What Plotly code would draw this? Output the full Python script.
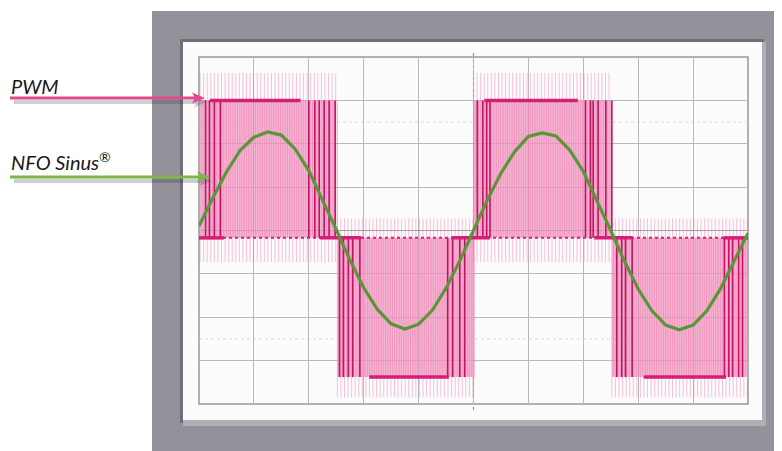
import numpy as np
import plotly.graph_objects as go

# page is rendered with an 8px body margin -> compensate
OFF = 8
W, H = 782 - OFF, 451 - OFF
PL, PR, PT, PB = 199, 748, 57, 404  # plot-area box in reference pixels


def px(x):
    return (x - PL) / (PR - PL)


def py(y):
    return (PB - y) / (PB - PT)


# ---------------- data (units = screen divisions) -------
sine_t = [0.0, 0.25, 0.5, 0.75, 1.0, 1.25, 1.5, 1.75, 2.0, 2.25,
          2.5, 2.75, 3.0, 3.25, 3.5, 3.75, 4.0, 4.25, 4.5, 4.75,
          5.0, 5.25, 5.5, 5.75, 6.0, 6.25, 6.5, 6.75, 7.0, 7.25,
          7.5, 7.75, 8.0, 8.25, 8.5, 8.75, 9.0, 9.25, 9.5, 9.75, 10.0]
sine_v = [0.10, 0.75, 1.35, 1.85, 2.15, 2.27, 2.20, 1.88, 1.38, 0.72,
          0.02, -0.68, -1.32, -1.82, -2.15, -2.27, -2.16, -1.84, -1.33, -0.70,
          0.00, 0.70, 1.32, 1.82, 2.17, 2.25, 2.18, 1.86, 1.36, 0.70,
          0.00, -0.71, -1.35, -1.85, -2.18, -2.29, -2.18, -1.85, -1.34, -0.70, -0.06]

pwm_zero = -0.17
pwm_block_start = [0.02, 2.52, 5.0, 7.52]
pwm_block_end = [2.5, 5.0, 7.5, 10.0]
pwm_block_level = [3.0, -3.38, 3.0, -3.38]
pwm_spike_top = [3.63, 0.28, 3.63, 0.28]
pwm_spike_bottom = [-0.73, -3.85, -0.73, -3.85]
pwm_pulse_step = 0.065

pwm_dark_lines = [
    [0.12, 0.19, 0.28, 0.39, 2.00, 2.11, 2.19, 2.28, 2.37, 2.48],
    [2.56, 2.63, 2.72, 2.80, 2.93, 4.53, 4.62, 4.75, 4.84],
    [5.07, 5.17, 5.24, 5.30, 7.04, 7.13, 7.18, 7.27, 7.41, 7.52],
    [7.61, 7.70, 7.77, 7.89, 9.57, 9.65, 9.72, 9.83, 9.90],
]
pwm_bar_start = [0.20, 3.10, 5.20, 8.10]
pwm_bar_end = [1.85, 4.55, 6.90, 9.60]
zero_bar_start = [0.0, 2.20, 4.60, 7.20, 9.55]
zero_bar_end = [0.45, 2.95, 5.30, 7.90, 10.0]

# ---------------- colours -----------------------------------------------------
FRAME = "rgb(147,145,153)"
PINK_FILL = "rgba(243,160,198,0.70)"
PINK_STRIPE = "rgba(222,70,145,0.33)"
PINK_SPIKE = "rgba(236,110,168,0.42)"
DARK_PINK = "rgb(196,18,102)"
BAR_PINK = "rgb(215,30,118)"
GREEN = "rgb(90,150,56)"
ARROW_PINK = "rgb(225,72,142)"
ARROW_GREEN = "rgb(124,181,72)"

fig = go.Figure()

# PWM blocks
for s, e, lvl, st, sb in zip(pwm_block_start, pwm_block_end, pwm_block_level,
                             pwm_spike_top, pwm_spike_bottom):
    fig.add_trace(go.Scatter(x=[s, s, e, e, s], y=[pwm_zero, lvl, lvl, pwm_zero, pwm_zero],
                             fill="toself", fillcolor=PINK_FILL, mode="lines",
                             line=dict(width=0), hoverinfo="skip", showlegend=False))
    pos = np.arange(s, e + 1e-9, pwm_pulse_step)
    xs, ys, xs2, ys2 = [], [], [], []
    for p in pos:
        xs += [p, p, None]
        ys += [sb, st, None]
        xs2 += [p + pwm_pulse_step / 2, p + pwm_pulse_step / 2, None]
        ys2 += [pwm_zero, lvl, None]
    fig.add_trace(go.Scatter(x=xs, y=ys, mode="lines", line=dict(color=PINK_SPIKE, width=1),
                             hoverinfo="skip", showlegend=False))
    fig.add_trace(go.Scatter(x=xs2, y=ys2, mode="lines", line=dict(color=PINK_STRIPE, width=1),
                             hoverinfo="skip", showlegend=False))

# dark edge pulses
for lines, lvl in zip(pwm_dark_lines, pwm_block_level):
    xs, ys = [], []
    for p in lines:
        xs += [p, p, None]
        ys += [pwm_zero, lvl, None]
    fig.add_trace(go.Scatter(x=xs, y=ys, mode="lines", line=dict(color=DARK_PINK, width=1.6),
                             hoverinfo="skip", showlegend=False))

# zero-level trace
fig.add_trace(go.Scatter(x=[0, 10], y=[pwm_zero, pwm_zero], mode="lines",
                         line=dict(color=BAR_PINK, width=2, dash="dot"),
                         hoverinfo="skip", showlegend=False))
xs, ys = [], []
for s, e in zip(zero_bar_start, zero_bar_end):
    xs += [s, e, None]
    ys += [pwm_zero, pwm_zero, None]
fig.add_trace(go.Scatter(x=xs, y=ys, mode="lines", line=dict(color=BAR_PINK, width=3.5),
                         hoverinfo="skip", showlegend=False))

# high / low level bars
xs, ys = [], []
for s, e, lvl in zip(pwm_bar_start, pwm_bar_end, pwm_block_level):
    xs += [s, e, None]
    ys += [lvl, lvl, None]
fig.add_trace(go.Scatter(x=xs, y=ys, mode="lines", line=dict(color=BAR_PINK, width=3.5),
                         hoverinfo="skip", showlegend=False))

# sine
fig.add_trace(go.Scatter(x=sine_t, y=sine_v, mode="lines", line=dict(color=GREEN, width=3.2),
                         hoverinfo="skip", showlegend=False))

# centre-axis small markers
fig.add_trace(go.Scatter(x=[5, 5], y=[4.12, -4.15], mode="markers",
                         marker=dict(color="rgb(200,60,110)", size=4, symbol="square"),
                         cliponaxis=False, hoverinfo="skip", showlegend=False))
fig.add_trace(go.Scatter(x=[10.06], y=[0.33], mode="markers",
                         marker=dict(color="rgb(200,60,110)", size=6, symbol="triangle-left"),
                         cliponaxis=False, hoverinfo="skip", showlegend=False))


def rect(x0, y0, x1, y1, color):
    return dict(type="rect", xref="paper", yref="paper", x0=px(x0), x1=px(x1),
                y0=py(y1), y1=py(y0), fillcolor=color, line=dict(width=0), layer="below")


def arrow(x0, x1, y, color, width=3, head_len=13, head_half=5.5, notch=3, layer="above"):
    line = dict(type="line", xref="paper", yref="paper", x0=px(x0), x1=px(x1 - head_len + notch),
                y0=py(y), y1=py(y), line=dict(color=color, width=width), layer=layer)
    path = "M {},{} L {},{} L {},{} L {},{} Z".format(
        px(x1), py(y), px(x1 - head_len), py(y - head_half),
        px(x1 - head_len + notch), py(y), px(x1 - head_len), py(y + head_half))
    head = dict(type="path", xref="paper", yref="paper", path=path, fillcolor=color,
                line=dict(width=0), layer=layer)
    return [line, head]


shapes = [
    rect(152, 11, 800, 470, FRAME),
    rect(180, 39, 764, 423, "rgb(112,111,119)"),
    rect(183, 42, 766, 426, "rgb(176,175,182)"),
    rect(183, 42, 762, 420, "rgb(252,252,252)"),
    dict(type="rect", xref="paper", yref="paper", x0=0, x1=1, y0=0, y1=1,
         line=dict(color="rgb(150,150,150)", width=1.5), layer="below"),
    dict(type="line", xref="x", yref="paper", x0=5, x1=5, y0=py(410), y1=py(52),
         line=dict(color="rgb(165,140,150)", width=1.2, dash="dot"), layer="below"),
    dict(type="line", xref="paper", yref="y", x0=0, x1=1, y0=2.5, y1=2.5,
         line=dict(color="rgb(218,218,218)", width=1, dash="dot"), layer="below"),
    dict(type="line", xref="paper", yref="y", x0=0, x1=1, y0=-2.5, y1=-2.5,
         line=dict(color="rgb(218,218,218)", width=1, dash="dot"), layer="below"),
]
# arrows with soft drop shadows
shapes += arrow(14, 207, 102, "rgba(40,40,40,0.22)", width=4)
shapes += arrow(14, 212, 181, "rgba(40,40,40,0.22)", width=4)
shapes += arrow(10, 205, 98, ARROW_PINK)
shapes += arrow(10, 210, 177, ARROW_GREEN)

annotations = [
    dict(xref="paper", yref="paper", x=px(9), y=py(86), xanchor="left", yanchor="middle",
         text="<i>PWM</i>", showarrow=False,
         font=dict(family="Lato, Open Sans, sans-serif", size=20, color="rgb(25,25,25)")),
    dict(xref="paper", yref="paper", x=px(9), y=py(161), xanchor="left", yanchor="middle",
         text="<i>NFO Sinus<sup>®</sup></i>", showarrow=False,
         font=dict(family="Lato, Open Sans, sans-serif", size=20, color="rgb(25,25,25)")),
]

fig.update_layout(
    width=W, height=H,
    margin=dict(l=PL - OFF, r=W - (PR - OFF), t=PT - OFF, b=H - (PB - OFF), pad=0),
    paper_bgcolor="white", plot_bgcolor="rgba(0,0,0,0)",
    shapes=shapes, annotations=annotations, showlegend=False,
    xaxis=dict(range=[0, 10], dtick=1, tick0=0, showgrid=True, gridcolor="rgb(185,185,185)",
               gridwidth=1, zeroline=False, showticklabels=False, ticks="", showline=False,
               fixedrange=True),
    yaxis=dict(range=[-4, 4], dtick=1, tick0=0, showgrid=True, gridcolor="rgb(185,185,185)",
               gridwidth=1, zeroline=True, zerolinecolor="rgb(160,160,160)", zerolinewidth=1,
               showticklabels=False, ticks="", showline=False, fixedrange=True),
)

fig.write_html("out.html", config={"displayModeBar": False})
